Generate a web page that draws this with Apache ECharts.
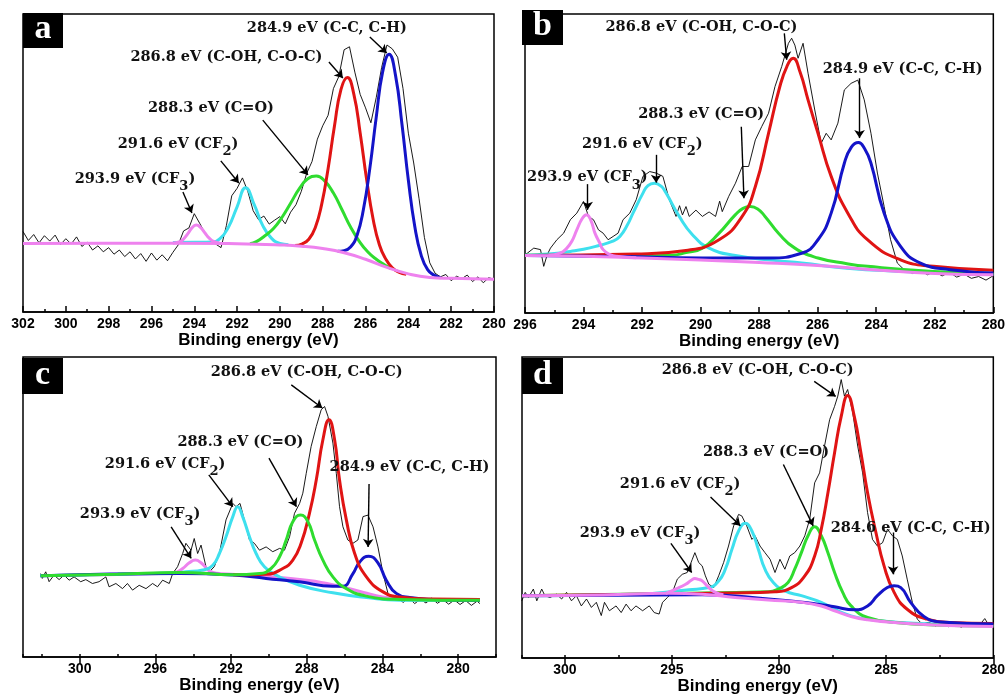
<!DOCTYPE html>
<html>
<head>
<meta charset="utf-8">
<script src="https://cdn.jsdelivr.net/npm/echarts@6/dist/echarts.min.js"></script>
<style>
  html, body { margin: 0; padding: 0; background: #fff; }
  #chart { width: 1008px; height: 696px; }
</style>
</head>
<body>
<div id="chart"></div>
<script>
// C 1s spectra, four samples; [binding energy (eV), intensity (a.u.)]
const rawA = [[302,27.0],[301.75,24.0],[301.5,26.0],[301.25,23.2],[301,25.6],[300.75,23.8],[300.5,25.8],[300.25,22.6],[300,24.6],[299.75,22.8],[299.5,25.2],[299.25,22.0],[299,23.4],[298.75,20.8],[298.5,22.2],[298.25,20.2],[298,21.6],[297.75,19.4],[297.5,20.8],[297.25,18.6],[297,20.2],[296.75,17.8],[296.5,19.6],[296.25,17.0],[296,19.8],[295.75,17.4],[295.5,19.2],[295.25,17.2],[295,20.0],[294.75,22.5],[294.5,27.2],[294.25,28.2],[294,33.0],[293.75,29.8],[293.5,26.5],[293.25,24.5],[293,22.8],[292.75,21.6],[292.5,29.0],[292.25,39.0],[292,41.5],[291.75,45.0],[291.5,40.5],[291.25,34.0],[291,31.0],[290.75,32.2],[290.5,29.5],[290.25,30.8],[290,32.0],[289.75,29.6],[289.5,33.5],[289.25,36.0],[289,40.5],[288.75,46.5],[288.5,50.5],[288.25,58.0],[288,62.5],[287.75,66.0],[287.5,75.0],[287.25,79.0],[287,88.0],[286.75,89.0],[286.5,80.5],[286.25,73.0],[286,68.5],[285.75,63.5],[285.5,72.0],[285.25,82.0],[285,89.6],[284.75,88.3],[284.5,85.5],[284.25,75.0],[284,60.0],[283.75,50.0],[283.5,38.0],[283.25,25.0],[283,16.5],[282.75,13.0],[282.5,11.8],[282.25,12.6],[282,10.5],[281.75,12.0],[281.5,11.2],[281.25,12.4],[281,10.2],[280.75,11.8],[280.5,9.8],[280.25,11.5],[280,11.0]];
const bgA = [[302,23.0],[298,23.1],[295,23.1],[292,22.9],[290,22.5],[289,22.1],[288,21.3],[287,19.9],[286,17.7],[285,15.0],[284,12.8],[283,11.6],[282,11.3],[280,11.0]];
const cf3A = [[295.0,23.1],[294.7,23.5],[294.5,24.5],[294.3,26.3],[294.1,28.3],[293.9,29.2],[293.7,28.3],[293.5,26.5],[293.3,24.8],[293.1,23.7],[292.8,23.1]];
const cf2A = [[295.0,23.3],[294.0,23.4],[293.2,23.5],[292.8,24.6],[292.4,28.5],[292.0,35.3],[291.6,41.7],[291.2,36.0],[290.8,29.0],[290.4,24.8],[290.0,23.0],[289.6,22.6]];
const coA = [[291.4,22.9],[291.1,23.6],[290.7,25.6],[290.3,28.0],[289.9,31.8],[289.5,36.5],[289.1,41.3],[288.7,44.7],[288.3,45.6],[287.9,43.9],[287.5,39.9],[287.1,34.3],[286.7,28.5],[286.3,23.8],[285.9,20.2],[285.5,17.7],[285.1,15.8],[284.8,14.5]];
const cohA = [[289.3,22.3],[288.95,22.9],[288.65,24.4],[288.35,28.3],[288.05,36.1],[287.75,48.1],[287.45,62.5],[287.15,74.6],[286.85,78.7],[286.55,73.2],[286.25,60.0],[285.95,44.5],[285.65,31.3],[285.35,22.5],[285.05,17.7],[284.75,14.8],[284.45,13.4],[284.1,12.7]];
const ccA = [[287.3,20.4],[287.0,20.6],[286.7,21.8],[286.4,25.7],[286.1,34.4],[285.8,48.2],[285.5,65.4],[285.2,80.6],[284.9,86.5],[284.6,79.4],[284.3,63.1],[284.0,44.2],[283.7,28.7],[283.4,19.0],[283.1,14.2],[282.8,12.4],[282.5,11.5]];

const rawB = [[296.0,19.5],[295.92,20.0],[295.7,21.7],[295.47,21.2],[295.36,15.6],[295.24,19.5],[295.13,21.7],[294.91,24.5],[294.68,26.7],[294.45,31.2],[294.23,33.4],[294.0,37.3],[293.83,32.3],[293.66,31.2],[293.49,27.8],[293.33,26.7],[293.16,24.5],[292.99,25.6],[292.82,26.7],[292.65,31.2],[292.42,33.4],[292.2,37.9],[291.97,45.7],[291.74,47.3],[291.52,46.8],[291.29,45.7],[291.07,37.9],[290.84,32.3],[290.72,35.9],[290.62,32.8],[290.5,35.6],[290.39,32.3],[290.16,34.4],[289.94,32.3],[289.71,33.8],[289.49,32.3],[289.35,37.4],[289.26,33.9],[289.04,39.0],[288.81,43.4],[288.58,49.0],[288.36,49.0],[288.13,57.9],[287.91,62.4],[287.68,66.8],[287.46,75.7],[287.23,82.4],[287.0,90.2],[286.89,91.9],[286.78,89.6],[286.67,85.2],[286.5,90.2],[286.33,80.2],[286.1,67.9],[285.88,56.8],[285.71,60.1],[285.54,57.9],[285.31,63.5],[285.09,74.6],[284.86,76.8],[284.63,77.9],[284.41,71.3],[284.18,60.1],[283.96,46.8],[283.73,35.6],[283.51,24.5],[283.28,16.7],[283.05,14.5],[282.75,13.2],[282.5,14.2],[282.25,12.8],[282.0,13.8],[281.75,12.4],[281.5,13.6],[281.25,12.0],[281.0,13.0],[280.75,11.6],[280.5,12.2],[280.25,11.0],[280.0,12.5]];
const bgB = [[296,19.2],[294,19.0],[292,18.4],[290,17.7],[288,16.9],[286,15.9],[284,14.4],[282,13.2],[280,12.8]];
const cf3B = [[295.2,19.3],[294.8,20.0],[294.57,21.7],[294.4,24.0],[294.23,27.8],[294.05,31.5],[293.9,32.9],[293.75,31.0],[293.61,26.7],[293.45,23.5],[293.33,21.2],[293.1,19.5],[292.8,18.9],[292.2,18.5]];
const cf2B = [[296,19.3],[295.58,19.5],[295,19.9],[294.45,20.6],[294,21.3],[293.5,22.5],[293,24.0],[292.76,25.6],[292.5,29.5],[292.31,33.4],[291.97,40.1],[291.8,42.6],[291.58,43.4],[291.35,42.4],[291.18,40.1],[290.73,32.3],[290.28,26.2],[289.71,21.7],[288.81,19.2],[287.5,17.6],[286.55,16.7],[285,15.0],[283.17,13.9],[281.5,13.2],[280,12.9]];
const coB = [[296,19.3],[294,19.2],[292.5,19.0],[291,19.3],[290.5,20.2],[289.94,21.7],[289.37,26.7],[288.81,32.9],[288.55,35.0],[288.3,35.6],[288.05,34.8],[287.8,32.3],[287.34,26.7],[286.78,21.7],[285.99,18.4],[285,16.5],[284.3,15.6],[282.04,13.9],[280,13.2]];
const cohB = [[296,19.2],[292.2,19.7],[290.5,20.9],[289.37,24.5],[288.58,32.3],[288.13,42.3],[287.68,60.1],[287.3,75.5],[287.05,82.5],[286.84,85.2],[286.6,80.5],[286.33,71.3],[285.99,60.1],[285.54,45.7],[284.97,33.4],[284.3,24.5],[283.17,17.8],[282.04,15.6],[280,14.3]];
const ccB = [[296,19.2],[292.76,18.9],[289.94,18.4],[287.68,18.4],[286.55,20.0],[285.99,24.5],[285.54,33.4],[285.09,50.1],[284.85,55.5],[284.61,57.0],[284.4,55.0],[284.18,50.1],[283.73,33.4],[283.17,22.3],[282.49,16.7],[281.47,14.5],[280,13.4]];

const rawC = [[302.07,27.8],[301.98,26.2],[301.8,28.4],[301.62,25.1],[301.36,27.3],[301.09,25.8],[300.83,27.3],[300.56,25.6],[300.3,26.7],[299.95,25.1],[299.68,25.8],[299.33,24.5],[298.98,25.1],[298.62,26.7],[298.45,23.4],[298.09,24.5],[297.74,22.8],[297.48,24.5],[297.21,22.3],[296.86,23.9],[296.5,22.8],[296.15,24.5],[295.89,23.4],[295.62,25.6],[295.27,24.5],[295.09,27.8],[294.83,30.1],[294.56,34.5],[294.39,37.9],[294.12,35.6],[293.95,39.5],[293.77,34.5],[293.59,37.3],[293.33,30.1],[293.15,28.4],[292.89,30.1],[292.62,34.5],[292.27,45.7],[291.91,51.2],[291.74,50.1],[291.53,51.2],[291.3,45.7],[291.03,39.0],[290.77,37.9],[290.5,35.6],[290.15,36.7],[289.8,35.1],[289.44,36.2],[289.18,35.6],[288.91,40.1],[288.65,47.9],[288.38,51.2],[288.21,54.6],[288.03,61.2],[287.77,70.2],[287.5,76.8],[287.24,82.4],[287.06,83.5],[286.88,80.2],[286.62,71.3],[286.44,61.2],[286.27,50.1],[286.09,43.4],[285.83,39.0],[285.56,37.9],[285.3,39.0],[285.03,46.8],[284.77,47.3],[284.5,43.4],[284.24,36.7],[283.97,27.8],[283.71,21.2],[283.44,18.9],[283.2,19.5],[282.9,18.2],[282.6,19.8],[282.3,17.8],[282.0,19.2],[281.7,18.0],[281.4,19.6],[281.1,17.9],[280.8,19.1],[280.5,17.6],[280.2,19.0],[279.9,17.5],[279.6,18.8],[279.3,17.2],[279.0,18.6],[278.85,17.8]];
const bgC = [[302.1,27.1],[298,27.5],[294,28.0],[292,27.6],[290,26.8],[288,25.6],[287,24.6],[286,23.2],[285,21.5],[284,20.0],[283,19.3],[282,19.0],[278.85,18.9]];
const cf3C = [[295.2,28.0],[294.92,28.2],[294.56,29.5],[294.21,31.4],[293.89,32.3],[293.59,31.4],[293.24,29.2],[292.97,28.2],[292.6,27.8]];
const cf2C = [[302.1,27.1],[298,27.6],[295,28.1],[294.39,28.4],[293.5,29.0],[292.97,30.6],[292.62,34.5],[292.27,40.1],[291.91,46.8],[291.65,50.1],[291.39,46.8],[291.03,40.1],[290.68,34.5],[290.24,30.1],[289.62,27.3],[288.38,23.9],[286.62,21.4],[284.85,19.8],[283.09,18.9],[278.85,18.8]];
const coC = [[302.07,27.1],[298,27.6],[294.74,28.2],[291.9,27.4],[290.5,27.8],[289.89,29.5],[289.44,33.4],[289.09,39.0],[288.74,45.1],[288.33,47.3],[287.94,45.1],[287.59,39.0],[287.15,32.3],[286.62,26.7],[285.91,22.8],[284.85,20.3],[283.09,19.2],[278.85,18.9]];
const cohC = [[291.9,27.4],[290.15,27.6],[289.27,29.5],[288.74,32.3],[288.3,37.9],[287.86,47.9],[287.5,59.0],[287.15,72.4],[286.83,79.1],[286.53,72.4],[286.27,59.0],[285.91,45.7],[285.47,34.5],[284.85,26.7],[283.97,21.7],[283.09,20.0],[281.32,19.3],[278.85,19.2]];
const ccC = [[302.07,27.1],[294.74,27.8],[291.9,27.3],[290.15,26.2],[288.4,25.1],[286.62,23.6],[286.1,23.6],[285.56,27.8],[285.2,31.7],[284.73,33.6],[284.24,31.4],[283.8,25.6],[283.27,21.2],[282.56,19.8],[281.3,19.2],[278.85,18.9]];

const rawD = [[302.01,19.0],[301.85,21.8],[301.7,20.1],[301.47,22.9],[301.31,19.0],[301.08,22.9],[300.93,20.7],[300.69,20.1],[300.39,21.2],[300.15,19.6],[299.92,21.8],[299.69,19.0],[299.46,20.7],[299.23,17.3],[298.99,19.6],[298.76,16.8],[298.53,18.5],[298.3,14.1],[298.15,18.5],[297.92,15.7],[297.61,17.3],[297.37,15.1],[297.14,17.9],[296.91,15.7],[296.68,17.3],[296.37,15.7],[296.06,17.3],[295.83,15.1],[295.6,14.6],[295.44,18.5],[295.21,20.1],[294.98,21.8],[294.75,26.2],[294.52,27.8],[294.29,28.4],[294.05,32.8],[293.93,35.0],[293.75,31.7],[293.59,30.6],[293.44,27.3],[293.28,24.5],[293.05,23.4],[292.82,27.3],[292.59,31.7],[292.36,37.2],[292.12,43.9],[291.89,47.7],[291.74,47.2],[291.51,43.9],[291.27,39.4],[291.12,40.6],[290.89,37.2],[290.66,35.0],[290.42,32.8],[290.19,28.4],[289.96,32.8],[289.73,29.5],[289.5,33.9],[289.27,35.0],[289.03,37.2],[288.8,40.6],[288.57,46.1],[288.34,58.2],[288.11,61.5],[287.88,70.4],[287.64,79.2],[287.41,83.6],[287.26,87.0],[287.1,92.5],[286.95,87.0],[286.8,89.2],[286.56,81.4],[286.33,70.4],[286.1,61.5],[285.87,48.3],[285.64,39.4],[285.41,37.2],[285.17,38.3],[284.94,42.8],[284.71,40.6],[284.48,39.4],[284.25,33.9],[284.02,26.2],[283.78,18.5],[283.55,12.9],[283.32,11.3],[283.0,11.9],[282.7,10.6],[282.4,11.8],[282.1,10.4],[281.8,11.6],[281.5,10.2],[281.2,11.5],[280.9,10.4],[280.6,11.3],[280.4,13.1],[280.2,10.8],[280.0,11.2]];
const bgD = [[302,20.7],[298.22,20.9],[295.13,21.5],[293.59,21.2],[292.05,20.1],[290.5,19.3],[288.96,18.5],[288.03,17.3],[287.41,15.7],[286.64,13.8],[285.87,12.7],[284.32,11.6],[282.78,11.0],[280,10.5]];
const cf3D = [[295.3,21.4],[294.83,22.9],[294.36,24.5],[294.1,25.8],[293.93,26.4],[293.75,26.1],[293.59,25.6],[293.28,23.4],[292.97,21.8],[292.6,21.0]];
const cf2D = [[302,20.7],[296.68,21.2],[294.21,22.7],[293.28,23.4],[292.82,25.6],[292.51,29.5],[292.2,36.1],[291.89,42.2],[291.58,44.8],[291.27,42.2],[290.97,36.1],[290.66,29.5],[290.27,25.1],[289.73,22.3],[288.96,20.7],[288.03,18.5],[287.41,16.2],[286.64,14.0],[285.87,12.9],[284.32,11.8],[282.78,11.3],[280,10.9]];
const coD = [[302,20.7],[292.05,21.8],[290.5,22.0],[290.04,22.9],[289.58,25.1],[289.27,29.5],[288.96,35.0],[288.65,40.6],[288.34,43.6],[288.03,40.6],[287.72,35.0],[287.41,28.4],[287.03,21.8],[286.64,17.3],[285.87,13.5],[284.32,11.6],[282.78,11.0],[280,10.6]];
const cohD = [[302,20.7],[292.05,21.6],[290.19,22.0],[289.42,23.4],[288.8,27.3],[288.34,33.9],[288.03,42.8],[287.72,54.9],[287.41,68.2],[287.1,80.3],[286.8,87.2],[286.49,80.3],[286.18,68.2],[285.87,54.9],[285.48,41.7],[285.1,30.6],[284.63,21.8],[284.02,16.2],[283.09,12.9],[282.01,11.8],[280,11.5]];
const ccD = [[302,20.7],[293.59,21.0],[290.5,19.6],[288.19,17.9],[287.41,17.0],[286.49,16.0],[285.87,17.3],[285.41,20.7],[284.95,23.4],[284.63,24.0],[284.32,23.4],[283.86,18.5],[283.24,13.8],[282.47,12.0],[280,11.3]];

const PINK = '#ee82ee', CYAN = '#3ee0ee', GREEN = '#2fdc2f', RED = '#e01414', BLUE = '#1414c8';

const T_CC = '{m|284.9 eV (C-C, C-H)}';
const T_COH = '{m|286.8 eV (C-OH, C-O-C)}';
const T_CO = '{m|288.3 eV (C=O)}';
const T_CF2 = '{m|291.6 eV (CF}{s|2}{m|)}';
const T_CF3 = '{m|293.9 eV (CF}{s|3}{m|)}';

const panels = [
  {
    letter: 'a', box: [23, 13, 40, 35],
    grid: { left: 23, top: 14, width: 471, height: 298 },
    min: 280, max: 302, step: 2, major: null,
    raw: rawA,
    layers: [[cf2A, CYAN], [coA, GREEN], [cohA, RED], [ccA, BLUE], [bgA, PINK], [cf3A, PINK]],
    notes: [[T_CC, 287.81, 95.0], [T_COH, 292.5, 85.2], [T_CO, 293.22, 68.1], [T_CF2, 294.76, 56.0, 1], [T_CF3, 296.77, 44.3, 1]],
    arrows: [[[285.80, 92.3], [285.01, 86.9]], [[287.71, 83.9], [287.06, 78.5]], [[290.80, 64.4], [288.69, 46.0]], [[292.76, 50.7], [291.92, 43.3]], [[294.53, 40.3], [294.11, 33.2]]]
  },
  {
    letter: 'b', box: [522, 10, 41, 35],
    grid: { left: 525, top: 14, width: 472, height: 299 },
    min: 280, max: 296, step: 2, major: null,
    raw: rawB,
    layers: [[cf2B, CYAN], [coB, GREEN], [cohB, RED], [ccB, BLUE], [bgB, PINK], [cf3B, PINK]],
    notes: [[T_COH, 289.97, 95.4], [T_CC, 283.10, 81.3], [T_CO, 289.98, 66.3], [T_CF2, 291.99, 56.2, 1], [T_CF3, 293.87, 45.1, 1]],
    arrows: [[[287.14, 93.5], [287.06, 84.7]], [[284.57, 78.5], [284.57, 58.5]], [[288.61, 62.3], [288.52, 38.4]], [[291.52, 52.9], [291.52, 43.6]], [[293.86, 43.1], [293.86, 34.5]]]
  },
  {
    letter: 'c', box: [22, 358, 41, 36],
    grid: { left: 23, top: 357, width: 473, height: 300 },
    min: 278, max: 303, step: 2, major: 4,
    raw: rawC,
    layers: [[bgC, PINK], [cf3C, PINK], [cf2C, CYAN], [ccC, BLUE], [cohC, RED], [coC, GREEN]],
    notes: [[T_COH, 288.01, 94.7], [T_CO, 291.51, 71.3], [T_CF2, 295.49, 64.0, 1], [T_CC, 282.57, 63.1], [T_CF3, 296.81, 47.3, 1]],
    arrows: [[[288.82, 90.7], [287.18, 83.0]], [[290.00, 66.3], [288.55, 50.1]], [[293.18, 60.7], [291.91, 50.1]], [[284.71, 57.7], [284.76, 36.7]], [[295.17, 43.4], [294.11, 32.9]]]
  },
  {
    letter: 'd', box: [522, 358, 41, 36],
    grid: { left: 522, top: 357, width: 475, height: 302 },
    min: 280, max: 302, step: 2.5, major: 5,
    raw: rawD,
    layers: [[cf2D, CYAN], [coD, GREEN], [cohD, RED], [ccD, BLUE], [bgD, PINK], [cf3D, PINK]],
    notes: [[T_COH, 291.0, 95.5], [T_CO, 290.61, 68.2], [T_CF2, 294.62, 57.7, 1], [T_CC.replace('284.9', '284.6'), 283.86, 42.8], [T_CF3, 296.49, 41.3, 1]],
    arrows: [[[288.36, 91.9], [287.36, 86.9]], [[289.80, 64.3], [288.41, 43.9]], [[293.20, 53.5], [291.81, 43.9]], [[284.68, 41.7], [284.68, 27.8]], [[295.05, 38.1], [294.08, 28.4]]]
  }
];

const tickLabelFont = { color: '#000', fontFamily: 'Liberation Sans, Arial', fontWeight: 'bold', fontSize: 14 };
const nameFont = { color: '#000', fontFamily: 'Liberation Sans, Arial', fontWeight: 'bold', fontSize: 17 };
const noteFont = { fontFamily: 'DejaVu Serif', fontWeight: 'bold', color: '#111' };

const grids = [], xAxes = [], yAxes = [], series = [], graphics = [];

panels.forEach((p, i) => {
  grids.push(Object.assign({ show: true, borderColor: '#000', borderWidth: 1.5, backgroundColor: 'transparent' }, p.grid));
  const major = p.major;
  xAxes.push({
    gridIndex: i, type: 'value', inverse: true, min: p.min, max: p.max, interval: p.step,
    name: 'Binding energy (eV)', nameLocation: 'middle', nameGap: 20, nameTextStyle: nameFont,
    axisLine: { onZero: false, lineStyle: { color: '#000', width: 1.5 } },
    axisTick: { inside: true, length: major ? 3 : 6, lineStyle: { color: '#000', width: 1.5 } },
    minorTick: { show: !major, splitNumber: 2, length: 3, lineStyle: { color: '#000', width: 1.5 } },
    axisLabel: Object.assign({
      margin: 5,
      formatter: major ? (v) => (Math.abs(v % major) < 1e-6 && v >= 280 && v <= 300 ? String(v) : '') : (v) => String(v)
    }, tickLabelFont),
    splitLine: { show: false }
  });
  yAxes.push({ gridIndex: i, type: 'value', min: 0, max: 100, show: false });

  series.push({
    type: 'line', xAxisIndex: i, yAxisIndex: i, data: p.raw, showSymbol: false, silent: true,
    lineStyle: { color: '#000', width: 0.9 }, z: 2
  });
  p.layers.forEach(([data, color]) => {
    series.push({
      type: 'line', xAxisIndex: i, yAxisIndex: i, data, showSymbol: false, silent: true,
      smooth: 0.5, lineStyle: { color, width: 3, join: 'round' }, z: 3
    });
  });
  series.push({
    type: 'line', xAxisIndex: i, yAxisIndex: i, data: [], silent: true, z: 10,
    markLine: {
      silent: true, animation: false, symbol: ['none', 'arrow'], symbolSize: 8,
      label: { show: false },
      lineStyle: { color: '#000', width: 1.4, type: 'solid' },
      data: p.arrows.map(a => [{ coord: a[0] }, { coord: a[1] }])
    },
    markPoint: {
      silent: true, animation: false, symbol: 'circle', symbolSize: 1,
      itemStyle: { color: 'rgba(0,0,0,0)' },
      data: p.notes.map(n => ({
        coord: [n[1], n[2]],
        label: {
          show: true, position: 'inside', formatter: n[0], offset: [0, n[3] ? 7 : 0],
          rich: {
            m: Object.assign({ fontSize: 14.5, lineHeight: 16, verticalAlign: 'top' }, noteFont),
            s: Object.assign({ fontSize: 13, lineHeight: 30 }, noteFont)
          }
        }
      }))
    }
  });

  const [bx, by, bw, bh] = p.box;
  graphics.push({ type: 'rect', shape: { x: bx, y: by, width: bw, height: bh }, style: { fill: '#000' }, z: 100 });
  graphics.push({
    type: 'text', x: bx + bw / 2, y: by + bh / 2 - 1, z: 101,
    style: { text: p.letter, fill: '#fff', font: 'bold 34px "Liberation Serif", serif', align: 'center', verticalAlign: 'middle' }
  });
});

// longer ticks at the labelled values of panels c and d
panels.forEach((p, i) => {
  if (!p.major) return;
  const vals = [];
  for (let v = 280; v <= 300; v += p.major) vals.push(v);
  xAxes.push({
    gridIndex: i, type: 'value', inverse: true, min: p.min, max: p.max, interval: p.step,
    axisLine: { show: false },
    axisLabel: { show: false },
    axisTick: { show: true, inside: true, length: 7, customValues: vals, lineStyle: { color: '#000', width: 1.5 } },
    splitLine: { show: false }
  });
});

const chart = echarts.init(document.getElementById('chart'));
chart.setOption({
  animation: false,
  backgroundColor: '#fff',
  grid: grids,
  xAxis: xAxes,
  yAxis: yAxes,
  series,
  graphic: graphics
});
</script>
</body>
</html>
